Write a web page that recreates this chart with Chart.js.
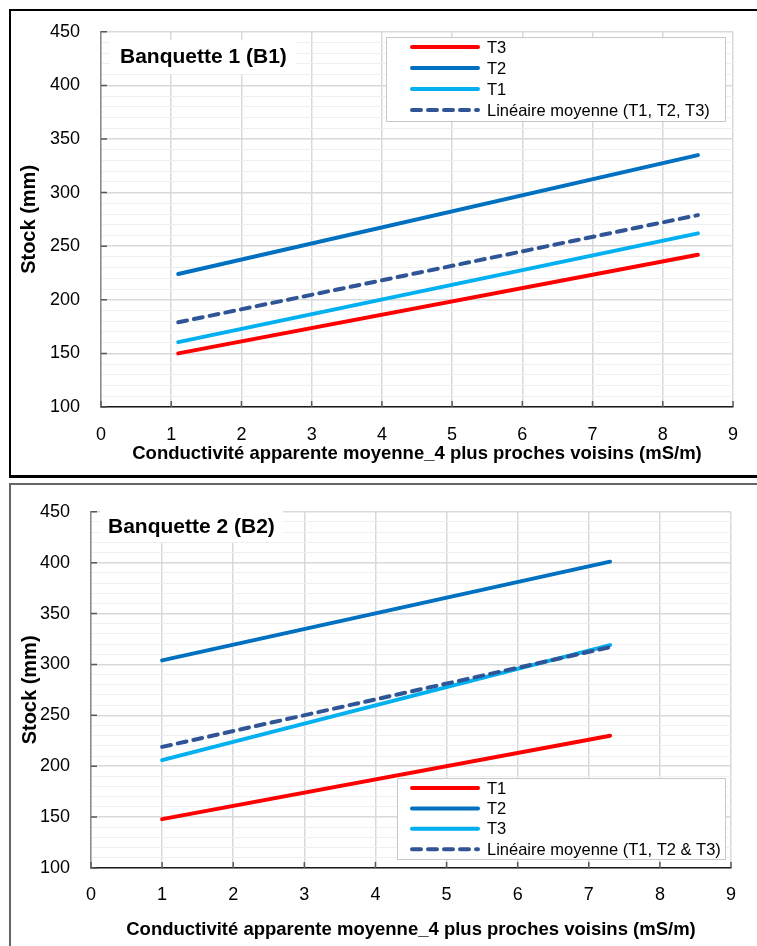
<!DOCTYPE html>
<html>
<head>
<meta charset="utf-8">
<script src="https://cdn.jsdelivr.net/npm/chart.js@4.4.1/dist/chart.umd.min.js"></script>
<style>
  html, body { margin: 0; padding: 0; background: #fff; }
  body { width: 757px; height: 946px; position: relative; overflow: hidden; }
  .panel { position: absolute; box-sizing: border-box; }
  #panel1 { left: 9px; top: 9px; width: 760px; height: 469px; border: 2px solid #000; border-bottom-width: 3px; }
  #panel2 { left: 9px; top: 483px; width: 760px; height: 470px; border: 2px solid #666; }
  canvas { position: absolute; left: 0; }
  #chart1 { top: 0; }
  #chart2 { top: 480px; }
</style>
</head>
<body>
<div class="panel" id="panel1"></div>
<div class="panel" id="panel2"></div>
<canvas id="chart1" width="757" height="480"></canvas>
<canvas id="chart2" width="757" height="466"></canvas>
<script>
// Banquette 1 (B1)
const b1X = [1.1, 8.5];
const b1T3 = [150, 242];
const b1T2 = [224, 335];
const b1T1 = [160.5, 262];
const b1Moyenne = [179, 279];

// Banquette 2 (B2)
const b2X = [1, 7.3];
const b2T1 = [148, 230];
const b2T2 = [304, 401];
const b2T3 = [206, 319];
const b2Moyenne = [219, 317];

// axes
const yLabels = [100, 150, 200, 250, 300, 350, 400, 450];
const xLabels = [0, 1, 2, 3, 4, 5, 6, 7, 8, 9];

const FONT = "'Liberation Sans', Arial, sans-serif";
const RED = '#FF0000';
const DARK = '#0070C0';
const LIGHT = '#00B0F0';
const MEAN = '#2F5597';
const xTitle = 'Conductivité apparente moyenne_4 plus proches voisins (mS/m)';

Chart.defaults.font.family = FONT;
Chart.defaults.color = '#000';

function pts(xs, ys) {
  return xs.map((x, i) => ({ x: x, y: ys[i] }));
}

function serie(label, xs, ys, color, dashed) {
  return {
    label: label,
    data: pts(xs, ys),
    borderColor: color,
    backgroundColor: color,
    borderWidth: 4,
    borderDash: dashed ? [9, 7] : [],
    borderCapStyle: 'round',
    pointRadius: 0,
    tension: 0,
    order: dashed ? 0 : 1
  };
}

// short tick marks inside the plot, like the Excel axes
const innerTicks = {
  id: 'innerTicks',
  afterDatasetsDraw(chart) {
    const { ctx, chartArea, scales } = chart;
    ctx.save();
    ctx.strokeStyle = '#595959';
    ctx.lineWidth = 1.5;
    ctx.beginPath();
    scales.y.ticks.forEach(t => {
      if (!yLabels.includes(t.value)) return;
      const py = scales.y.getPixelForValue(t.value);
      ctx.moveTo(chartArea.left, py);
      ctx.lineTo(chartArea.left + 6, py);
    });
    scales.x.ticks.forEach(t => {
      const px = scales.x.getPixelForValue(t.value);
      ctx.moveTo(px, chartArea.bottom);
      ctx.lineTo(px, chartArea.bottom - 6);
    });
    ctx.stroke();
    ctx.restore();
  }
};

// title box and boxed legend inside the plot
function decor(cfg) {
  return {
    id: 'decor',
    afterDraw(chart) {
      const ctx = chart.ctx;
      const t = cfg.title;
      const L = cfg.legend;
      ctx.save();
      ctx.fillStyle = '#fff';
      ctx.fillRect(t.box[0], t.box[1], t.box[2], t.box[3]);
      ctx.fillStyle = '#000';
      ctx.font = 'bold 21px ' + FONT;
      ctx.textBaseline = 'middle';
      ctx.textAlign = 'left';
      ctx.fillText(t.text, t.x, t.y);

      ctx.fillStyle = '#fff';
      ctx.fillRect(L.box[0], L.box[1], L.box[2], L.box[3]);
      ctx.strokeStyle = '#c8c8c8';
      ctx.lineWidth = 1;
      ctx.strokeRect(L.box[0] + 0.5, L.box[1] + 0.5, L.box[2], L.box[3]);
      chart.data.datasets.forEach((ds, i) => {
        const yy = L.y0 + i * L.dy;
        ctx.strokeStyle = ds.borderColor;
        ctx.lineWidth = ds.borderWidth;
        ctx.lineCap = 'round';
        ctx.setLineDash(ds.borderDash);
        ctx.beginPath();
        ctx.moveTo(L.x1, yy);
        ctx.lineTo(L.x2, yy);
        ctx.stroke();
        ctx.setLineDash([]);
        ctx.fillStyle = '#000';
        ctx.font = '16.5px ' + FONT;
        ctx.fillText(ds.label, L.tx, yy + 1);
      });
      ctx.restore();
    }
  };
}

function makeChart(id, datasets, lay, deco) {
  return new Chart(document.getElementById(id), {
    type: 'line',
    data: { datasets: datasets },
    options: {
      responsive: false,
      animation: false,
      devicePixelRatio: 1,
      layout: { padding: { left: 0, right: lay.right, top: lay.top, bottom: 0 } },
      plugins: { legend: { display: false }, tooltip: { enabled: false } },
      scales: {
        x: {
          type: 'linear',
          min: xLabels[0],
          max: xLabels[xLabels.length - 1],
          afterFit: s => { s.height = lay.xHeight; },
          ticks: { stepSize: 1, padding: lay.xPad, color: '#000', font: { size: 18 } },
          grid: { drawTicks: false, color: '#d9d9d9', lineWidth: 1.5 },
          border: { color: '#1a1a1a', width: 1.5 },
          title: {
            display: true, text: xTitle, color: '#000',
            font: { size: 18.5, weight: 'bold' },
            padding: { top: 0, bottom: lay.xTitlePad }
          }
        },
        y: {
          min: yLabels[0],
          max: yLabels[yLabels.length - 1],
          afterFit: s => { s.width = lay.yWidth; },
          ticks: {
            stepSize: 10, autoSkip: false, padding: 21, color: '#000', font: { size: 18 },
            callback: v => yLabels.includes(v) ? v : ''
          },
          grid: {
            drawTicks: false,
            color: c => yLabels.includes(c.tick.value) ? '#d9d9d9' : '#efefef',
            lineWidth: c => yLabels.includes(c.tick.value) ? 1.5 : 1
          },
          border: { color: '#8c8c8c', width: 1.5 },
          title: {
            display: true, text: 'Stock (mm)', color: '#000',
            font: { size: 20, weight: 'bold' },
            padding: { top: lay.yTitlePad, bottom: 0 }
          }
        }
      }
    },
    plugins: [innerTicks, decor(deco)]
  });
}

makeChart('chart1', [
  serie('T3', b1X, b1T3, RED, false),
  serie('T2', b1X, b1T2, DARK, false),
  serie('T1', b1X, b1T1, LIGHT, false),
  serie('Linéaire moyenne (T1, T2, T3)', b1X, b1Moyenne, MEAN, true)
], { right: 24, top: 31, xHeight: 73, yWidth: 101, xPad: 17, xTitlePad: 15, yTitlePad: 17 }, {
  title: { text: 'Banquette 1 (B1)', box: [110, 40, 185, 34], x: 120, y: 57 },
  legend: { box: [386, 37, 339, 84], y0: 47, dy: 21, x1: 412, x2: 478, tx: 487 }
});

makeChart('chart2', [
  serie('T1', b2X, b2T1, RED, false),
  serie('T2', b2X, b2T2, DARK, false),
  serie('T3', b2X, b2T3, LIGHT, false),
  serie('Linéaire moyenne (T1, T2 & T3)', b2X, b2Moyenne, MEAN, true)
], { right: 26, top: 19, xHeight: 78, yWidth: 91, xPad: 16, xTitlePad: 5, yTitlePad: 18.5 }, {
  title: { text: 'Banquette 2 (B2)', box: [100, 23, 183, 39], x: 108, y: 47 },
  legend: { box: [397, 298, 328, 81], y0: 308, dy: 20.4, x1: 412, x2: 478, tx: 487 }
});
</script>
</body>
</html>
